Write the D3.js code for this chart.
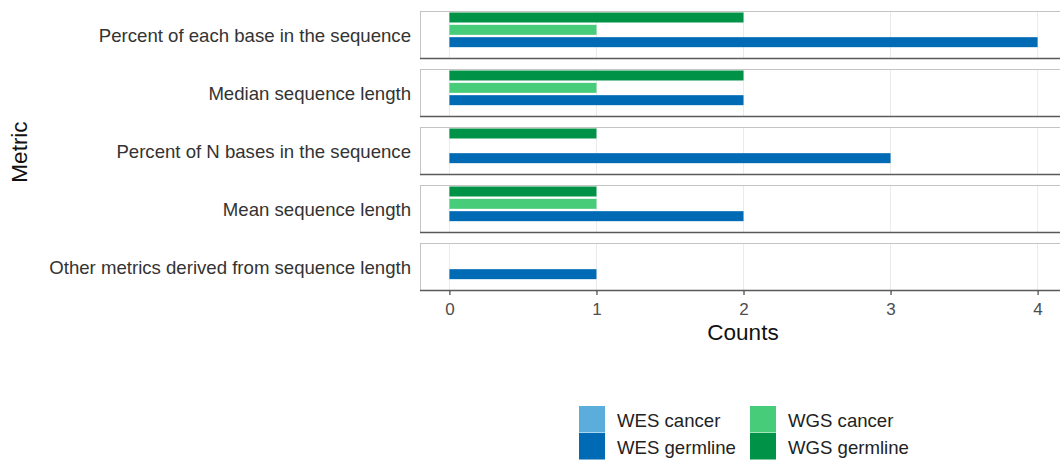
<!DOCTYPE html>
<html>
<head>
<meta charset="utf-8">
<script src="https://cdn.jsdelivr.net/npm/d3@7"></script>
<style>
  html, body { margin: 0; padding: 0; background: #fff; }
  svg { display: block; font-family: "Liberation Sans", Arial, sans-serif; }
</style>
</head>
<body>
<svg id="chart" width="1060" height="462"></svg>
<script>
// ---- data ----
const metrics = [
  "Percent of each base in the sequence",
  "Median sequence length",
  "Percent of N bases in the sequence",
  "Mean sequence length",
  "Other metrics derived from sequence length"
];
const groups = ["WES cancer", "WES germline", "WGS cancer", "WGS germline"];
const groupColors = ["#5BADDB", "#006AB5", "#47CC79", "#009247"];
// counts per metric for each group (same order as metrics)
const wesCancer   = [0, 0, 0, 0, 0];
const wesGermline = [4, 2, 3, 2, 1];
const wgsCancer   = [1, 1, 0, 1, 0];
const wgsGermline = [2, 2, 1, 1, 0];
const xTicks = [0, 1, 2, 3, 4];

const seriesValues = [wesCancer, wesGermline, wgsCancer, wgsGermline];

const svg = d3.select("#chart");

const x = d3.scaleLinear().domain([-0.2, 4.2]).range([420, 1067]);
const panel = d3.scaleBand().domain(metrics).range([11, 291]).paddingInner(10 / 58).paddingOuter(0);
// top-to-bottom order within a panel
const inner = d3.scaleBand().domain(groups.slice().reverse()).range([1.5, 48.5]).paddingInner(0.19).paddingOuter(0);
const color = d3.scaleOrdinal().domain(groups).range(groupColors);

const rows = [];
metrics.forEach((m, i) => {
  groups.forEach((g, j) => rows.push({ metric: m, group: g, value: seriesValues[j][i] }));
});

metrics.forEach(m => {
  const top = panel(m);
  const h = panel.bandwidth();
  const g = svg.append("g").attr("transform", `translate(0,${top})`);
  g.append("rect").attr("x", x.range()[0] + 0.5).attr("y", 0.5)
    .attr("width", x.range()[1] - x.range()[0]).attr("height", h - 1)
    .attr("fill", "#fff").attr("stroke", "#c4c4c4").attr("stroke-width", 1);
  g.selectAll("line.grid").data(xTicks).join("line")
    .attr("x1", d => x(d)).attr("x2", d => x(d))
    .attr("y1", 1).attr("y2", h - 1)
    .attr("stroke", "#ebebeb").attr("stroke-width", 1);
  g.selectAll("rect.bar").data(rows.filter(r => r.metric === m && r.value > 0)).join("rect")
    .attr("x", x(0)).attr("y", d => inner(d.group))
    .attr("width", d => x(d.value) - x(0)).attr("height", inner.bandwidth())
    .attr("fill", d => color(d.group));
  g.append("line").attr("x1", x.range()[0]).attr("x2", x.range()[1])
    .attr("y1", h - 0.5).attr("y2", h - 0.5)
    .attr("stroke", "#5a5a5a").attr("stroke-width", 1.6);
  svg.append("text").attr("x", 411).attr("y", top + h / 2)
    .attr("text-anchor", "end").attr("dominant-baseline", "central")
    .attr("font-size", 18.6).attr("fill", "#333").text(m);
});

// x axis
const axisY = panel(metrics[metrics.length - 1]) + panel.bandwidth();
const xAxis = svg.append("g").attr("transform", `translate(0,${axisY})`)
  .call(d3.axisBottom(x).tickValues(xTicks).tickSize(4).tickPadding(8).tickFormat(d3.format("d")));
xAxis.select(".domain").remove();
xAxis.selectAll(".tick line").attr("stroke", "#333").attr("stroke-width", 1.1);
xAxis.selectAll(".tick text").attr("font-size", 17).attr("fill", "#4d4d4d")
  .attr("font-family", "Liberation Sans, Arial, sans-serif");

svg.append("text").attr("x", 743).attr("y", 332).attr("text-anchor", "middle")
  .attr("dominant-baseline", "central").attr("font-size", 22.5).attr("fill", "#111").text("Counts");
svg.append("text").attr("transform", "translate(19,152) rotate(-90)").attr("text-anchor", "middle")
  .attr("dominant-baseline", "central").attr("font-size", 22.5).attr("fill", "#111").text("Metric");

// legend
const legendCols = [579, 750];
const legendRows = [406, 433];
groups.forEach((gname, i) => {
  const cx = legendCols[Math.floor(i / 2)];
  const cy = legendRows[i % 2];
  svg.append("rect").attr("x", cx).attr("y", cy).attr("width", 26).attr("height", 26.5)
    .attr("fill", color(gname));
  svg.append("text").attr("x", cx + 38).attr("y", cy + 14)
    .attr("dominant-baseline", "central").attr("font-size", 18.6).attr("fill", "#222").text(gname);
});
</script>
</body>
</html>
